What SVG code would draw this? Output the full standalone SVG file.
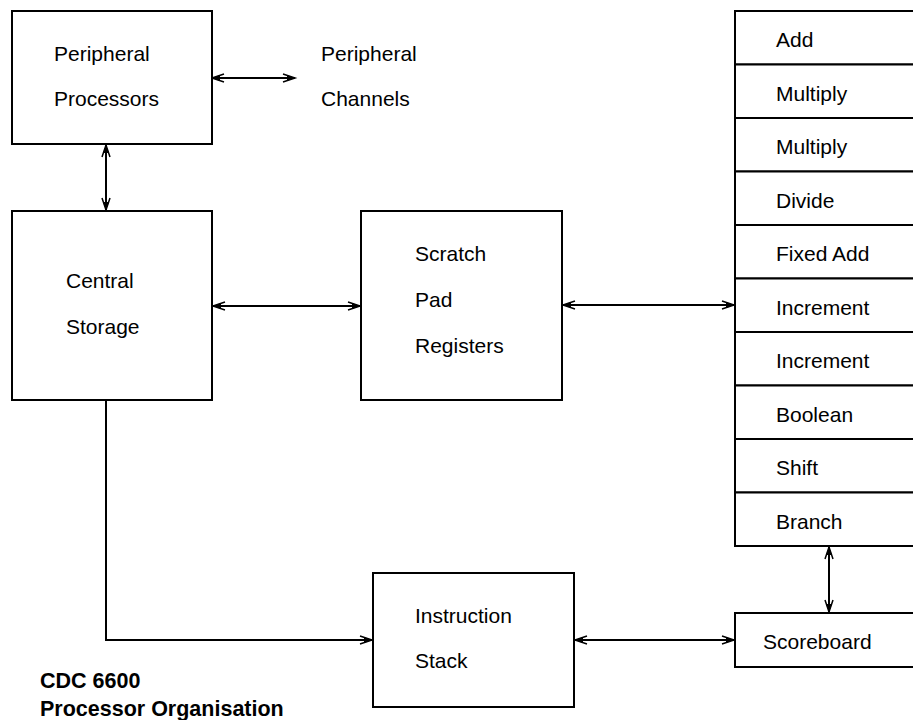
<svg xmlns="http://www.w3.org/2000/svg" width="913" height="720" viewBox="0 0 913 720">
<defs>
<style>
.box{fill:#fff;stroke:#000;stroke-width:2}
.lbl{font-family:"Liberation Sans",Arial,sans-serif;font-size:21px;fill:#000}
.ttl{font-family:"Liberation Sans",Arial,sans-serif;font-size:21.5px;font-weight:bold;fill:#000}
.con{fill:none;stroke:#000;stroke-width:2}
</style>
<marker id="ah" markerUnits="userSpaceOnUse" markerWidth="16" markerHeight="12" viewBox="-14 -6 16 12" refX="0" refY="0" orient="auto-start-reverse" overflow="visible">
<path d="M-12,-4 L0,0 L-12,4" fill="none" stroke="#000" stroke-width="1.5"/>
<path d="M0,0 L-8,-3 L-8,3 Z" fill="#000"/>
</marker>
</defs>
<rect width="913" height="720" fill="#fff"/>

<g id="connectors">
<line class="con" x1="212" y1="78" x2="295" y2="78" marker-start="url(#ah)" marker-end="url(#ah)"/>
<line class="con" x1="106" y1="145" x2="106" y2="210" marker-start="url(#ah)" marker-end="url(#ah)"/>
<line class="con" x1="213" y1="306" x2="360" y2="306" marker-start="url(#ah)" marker-end="url(#ah)"/>
<line class="con" x1="563" y1="305" x2="734" y2="305" marker-start="url(#ah)" marker-end="url(#ah)"/>
<path class="con" d="M106,401 V640 H372" marker-end="url(#ah)"/>
<line class="con" x1="575" y1="640" x2="734" y2="640" marker-start="url(#ah)" marker-end="url(#ah)"/>
<line class="con" x1="829" y1="547" x2="829" y2="612" marker-start="url(#ah)" marker-end="url(#ah)"/>
</g>

<g id="peripheral-processors">
<rect class="box" x="12" y="11" width="200" height="133"/>
<text class="lbl" x="54" y="61">Peripheral</text>
<text class="lbl" x="54" y="106">Processors</text>
</g>

<g id="peripheral-channels">
<text class="lbl" x="321" y="61">Peripheral</text>
<text class="lbl" x="321" y="106">Channels</text>
</g>

<g id="central-storage">
<rect class="box" x="12" y="211" width="200" height="189"/>
<text class="lbl" x="66" y="288">Central</text>
<text class="lbl" x="66" y="334">Storage</text>
</g>

<g id="scratch-pad-registers">
<rect class="box" x="361" y="211" width="201" height="189"/>
<text class="lbl" x="415" y="261">Scratch</text>
<text class="lbl" x="415" y="307">Pad</text>
<text class="lbl" x="415" y="353">Registers</text>
</g>

<g id="unit-add"><rect class="box" x="735" y="11" width="200" height="53.5"/><text class="lbl" x="776" y="47">Add</text></g>
<g id="unit-multiply-1"><rect class="box" x="735" y="64.5" width="200" height="53.5"/><text class="lbl" x="776" y="100.5">Multiply</text></g>
<g id="unit-multiply-2"><rect class="box" x="735" y="118" width="200" height="53.5"/><text class="lbl" x="776" y="154">Multiply</text></g>
<g id="unit-divide"><rect class="box" x="735" y="171.5" width="200" height="53.5"/><text class="lbl" x="776" y="207.5">Divide</text></g>
<g id="unit-fixed-add"><rect class="box" x="735" y="225" width="200" height="53.5"/><text class="lbl" x="776" y="261">Fixed Add</text></g>
<g id="unit-increment-1"><rect class="box" x="735" y="278.5" width="200" height="53.5"/><text class="lbl" x="776" y="314.5">Increment</text></g>
<g id="unit-increment-2"><rect class="box" x="735" y="332" width="200" height="53.5"/><text class="lbl" x="776" y="368">Increment</text></g>
<g id="unit-boolean"><rect class="box" x="735" y="385.5" width="200" height="53.5"/><text class="lbl" x="776" y="421.5">Boolean</text></g>
<g id="unit-shift"><rect class="box" x="735" y="439" width="200" height="53.5"/><text class="lbl" x="776" y="475">Shift</text></g>
<g id="unit-branch"><rect class="box" x="735" y="492.5" width="200" height="53.5"/><text class="lbl" x="776" y="528.5">Branch</text></g>

<g id="scoreboard">
<rect class="box" x="735" y="613" width="200" height="54"/>
<text class="lbl" x="763" y="649">Scoreboard</text>
</g>

<g id="instruction-stack">
<rect class="box" x="373" y="573" width="201" height="134"/>
<text class="lbl" x="415" y="623">Instruction</text>
<text class="lbl" x="415" y="668">Stack</text>
</g>

<g id="title">
<text class="ttl" x="40" y="688">CDC 6600</text>
<text class="ttl" x="40" y="716">Processor Organisation</text>
</g>
</svg>
